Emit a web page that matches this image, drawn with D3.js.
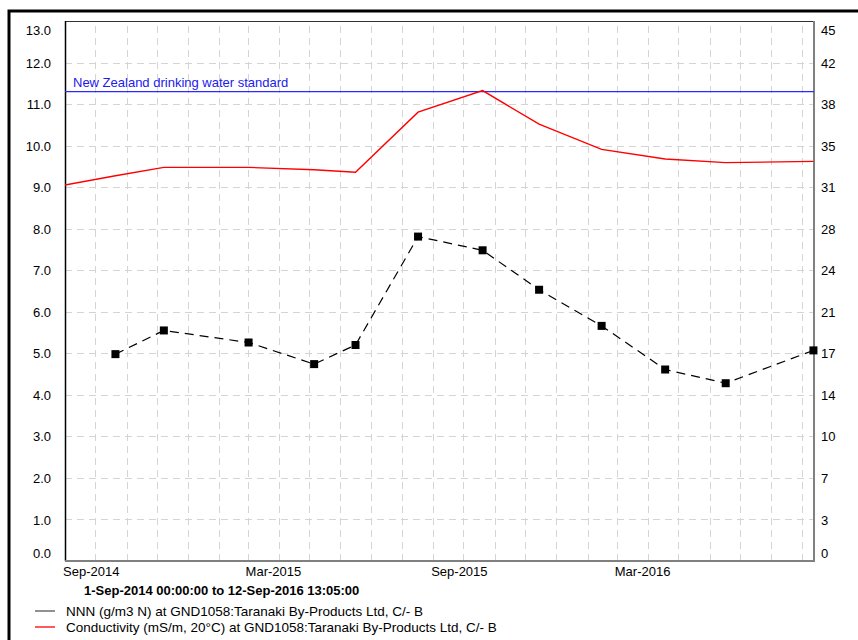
<!DOCTYPE html>
<html>
<head>
<meta charset="utf-8">
<script src="https://cdn.jsdelivr.net/npm/d3@7"></script>
<style>
  html, body { margin: 0; padding: 0; background: #fff; }
  svg { display: block; font-family: "Liberation Sans", Arial, sans-serif; }
</style>
</head>
<body>
<svg id="chart" width="858" height="640"></svg>
<script>
// Sampling dates shared by both series (GND1058 groundwater bore)
const sampleDates = ["2014-10-21", "2014-12-08", "2015-03-02", "2015-05-06", "2015-06-16",
  "2015-08-17", "2015-10-20", "2015-12-15", "2016-02-15", "2016-04-18", "2016-06-17", "2016-09-12"];
// Nitrite-nitrate nitrogen, g/m3 N (left axis)
const nnnValues = [4.98, 5.55, 5.26, 4.74, 5.20, 7.81, 7.48, 6.53, 5.66, 4.61, 4.28, 5.07];
// Conductivity, mS/m at 20°C (right axis); the first sample precedes the plotted period
const condDates = ["2014-07-22"].concat(sampleDates);
const condValues = [30.7, 32.1, 32.8, 32.8, 32.6, 32.4, 37.4, 39.2, 36.4, 34.3, 33.5, 33.2, 33.3];
// Guideline value for nitrate nitrogen
const standardValue = 11.3;
const standardLabel = "New Zealand drinking water standard";
// Axis ticks and labels
const leftTicks = d3.range(0, 14);
const rightMax = 45;
const rightTicks = d3.range(0, 14).map(i => rightMax * i / 13);
const xLabelDates = ["2014-09-01", "2015-03-01", "2015-09-01", "2016-03-01"];
const periodLabel = "1-Sep-2014 00:00:00 to 12-Sep-2016 13:05:00";
const legendLabels = [
  "NNN (g/m3 N) at GND1058:Taranaki By-Products Ltd, C/- B",
  "Conductivity (mS/m, 20°C) at GND1058:Taranaki By-Products Ltd, C/- B"
];

const parse = d3.timeParse("%Y-%m-%d");
const startDate = new Date(2014, 8, 1, 0, 0, 0);
const endDate = new Date(2016, 8, 12, 13, 5, 0);

const svg = d3.select("#chart");
const plot = { left: 65, right: 814, top: 21, bottom: 561 };

const x = d3.scaleTime().domain([startDate, endDate]).range([plot.left, plot.right]);
const yL = d3.scaleLinear().domain([0, 13]).range([plot.bottom, plot.top]);
const yR = d3.scaleLinear().domain([0, rightMax]).range([plot.bottom, plot.top]);

// Outer frame
svg.append("path")
  .attr("d", `M9,640 L9,11 L858,11`)
  .attr("fill", "none").attr("stroke", "#000").attr("stroke-width", 3);

svg.append("defs").append("clipPath").attr("id", "plotClip")
  .append("rect")
  .attr("x", plot.left).attr("y", plot.top)
  .attr("width", plot.right - plot.left).attr("height", plot.bottom - plot.top);

// Grid: monthly verticals and major horizontals
const grid = svg.append("g").attr("stroke", "#d4d4d4").attr("stroke-width", 1)
  .attr("stroke-dasharray", "7,5");
const months = d3.timeMonth.range(d3.timeMonth.offset(startDate, 1), endDate);
grid.selectAll("line.v").data(months).join("line")
  .attr("class", "v")
  .attr("x1", d => Math.round(x(d)) + 0.5).attr("x2", d => Math.round(x(d)) + 0.5)
  .attr("y1", plot.bottom).attr("y2", plot.top);
grid.selectAll("line.h").data(leftTicks.slice(1, -1)).join("line")
  .attr("class", "h")
  .attr("x1", plot.left).attr("x2", plot.right)
  .attr("y1", d => Math.round(yL(d)) + 0.5).attr("y2", d => Math.round(yL(d)) + 0.5);

// Plot frame
svg.append("line").attr("x1", plot.left).attr("x2", plot.right)
  .attr("y1", plot.top + 0.5).attr("y2", plot.top + 0.5).attr("stroke", "#333").attr("stroke-width", 1);
svg.append("line").attr("x1", plot.left + 0.5).attr("x2", plot.left + 0.5)
  .attr("y1", plot.top).attr("y2", plot.bottom).attr("stroke", "#000").attr("stroke-width", 1.5);
svg.append("line").attr("x1", plot.right).attr("x2", plot.right)
  .attr("y1", plot.top).attr("y2", plot.bottom + 1).attr("stroke", "#808080").attr("stroke-width", 2);
svg.append("line").attr("x1", plot.left).attr("x2", plot.right + 1)
  .attr("y1", plot.bottom).attr("y2", plot.bottom).attr("stroke", "#808080").attr("stroke-width", 2);

// Left axis labels
const fmtL = d3.format(".1f");
const axisL = d3.axisLeft(yL).tickValues(leftTicks).tickSize(0).tickPadding(14).tickFormat(fmtL);
const gL = svg.append("g").attr("transform", `translate(${plot.left},0)`).call(axisL);
gL.select(".domain").remove();
gL.selectAll("text").attr("font-size", 13).attr("fill", "#000")
  .attr("font-family", "'Liberation Sans', Arial, sans-serif")
  .attr("dy", d => d === 13 ? "1.02em" : d === 0 ? "-0.3em" : "0.35em");

// Right axis labels
const fmtR = d3.format(".0f");
const axisR = d3.axisRight(yR).tickValues(rightTicks).tickSize(0).tickPadding(7).tickFormat(fmtR);
const gR = svg.append("g").attr("transform", `translate(${plot.right},0)`).call(axisR);
gR.select(".domain").remove();
gR.selectAll("text").attr("font-size", 13).attr("fill", "#000")
  .attr("font-family", "'Liberation Sans', Arial, sans-serif")
  .attr("dy", d => d === rightMax ? "1.02em" : d === 0 ? "-0.3em" : "0.35em");

// Bottom axis labels (left-aligned at the month start)
const fmtX = d3.timeFormat("%b-%Y");
const axisB = d3.axisBottom(x).tickValues(xLabelDates.map(parse)).tickSize(0).tickPadding(6).tickFormat(fmtX);
const gB = svg.append("g").attr("transform", `translate(0,${plot.bottom})`).call(axisB);
gB.select(".domain").remove();
gB.selectAll("text").attr("font-size", 13).attr("fill", "#000")
  .attr("font-family", "'Liberation Sans', Arial, sans-serif")
  .attr("text-anchor", "start").attr("x", -2.5);

const plotArea = svg.append("g").attr("clip-path", "url(#plotClip)");

// Drinking water standard
plotArea.append("line")
  .attr("x1", plot.left).attr("x2", plot.right)
  .attr("y1", yL(standardValue)).attr("y2", yL(standardValue))
  .attr("stroke", "#2b2bff").attr("stroke-width", 1.3);
svg.append("text")
  .attr("x", plot.left + 8).attr("y", yL(standardValue) - 5)
  .attr("font-size", 13).attr("fill", "#2020ee")
  .text(standardLabel);

// Conductivity series
const condData = condDates.map((d, i) => ({ date: parse(d), value: condValues[i] }));
plotArea.append("path").datum(condData)
  .attr("fill", "none").attr("stroke", "#ff0000").attr("stroke-width", 1.4)
  .attr("d", d3.line().x(d => x(d.date)).y(d => yR(d.value)));

// NNN series
const nnnData = sampleDates.map((d, i) => ({ date: parse(d), value: nnnValues[i] }));
svg.append("path").datum(nnnData)
  .attr("fill", "none").attr("stroke", "#000").attr("stroke-width", 1.2)
  .attr("stroke-dasharray", "9,6")
  .attr("d", d3.line().x(d => x(d.date)).y(d => yL(d.value)));
svg.append("g").selectAll("rect").data(nnnData).join("rect")
  .attr("x", d => x(d.date) - 4).attr("y", d => yL(d.value) - 4)
  .attr("width", 8).attr("height", 8).attr("fill", "#000");

// Period caption
svg.append("text")
  .attr("x", 84).attr("y", 595)
  .attr("font-size", 13).attr("font-weight", "bold").attr("fill", "#000")
  .text(periodLabel);

// Legend
const legendColors = ["#555555", "#ff0000"];
const legend = svg.append("g");
legendLabels.forEach((label, i) => {
  const cy = 611 + i * 16;
  legend.append("line").attr("x1", 35).attr("x2", 55).attr("y1", cy).attr("y2", cy)
    .attr("stroke", legendColors[i]).attr("stroke-width", 1.3);
  legend.append("text").attr("x", 66).attr("y", cy + 4.5)
    .attr("font-size", 13.5).attr("fill", "#000").text(label);
});
</script>
</body>
</html>
